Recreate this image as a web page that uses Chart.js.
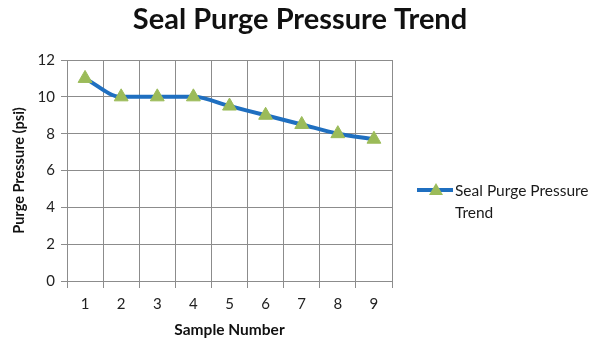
<!DOCTYPE html>
<html>
<head>
<meta charset="utf-8">
<script src="https://cdn.jsdelivr.net/npm/chart.js@4/dist/chart.umd.min.js"></script>
<style>
  html, body { margin: 0; padding: 0; background: #fff; }
  #wrap { position: relative; width: 600px; height: 347px; }
  #legend { position: absolute; left: 417px; top: 179px; width: 183px;
            font-family: Lato, sans-serif; font-size: 15.5px; color: #1a1a1a; line-height: 22px; }
  #legend .item { display: flex; align-items: flex-start; }
  #legend .swatch { position: relative; width: 36px; height: 22px; flex: none; margin-right: 2px; }
  #legend .swatch .ln { position: absolute; left: 0; right: 0; top: 9px; height: 4px; }
  #legend .swatch .tri { position: absolute; left: 12px; top: 4px; width: 0; height: 0;
            border-left: 7px solid transparent; border-right: 7px solid transparent; border-bottom: 12px solid; }
</style>
</head>
<body>
<div id="wrap">
  <canvas id="trendChart" width="600" height="347"></canvas>
  <div id="legend"></div>
</div>
<script>
const chartTitle = 'Seal Purge Pressure Trend';
const samples = ['1', '2', '3', '4', '5', '6', '7', '8', '9'];
const pressure = [11, 10, 10, 10, 9.5, 9, 8.5, 8, 7.7];
const yTicks = [0, 2, 4, 6, 8, 10, 12];

const lineColor = '#1f6fc0';
const markerColor = '#9bbb59';
const gridColor = '#8c8c8c';
const font = 'Lato, sans-serif';

// title centred on the whole canvas, not just the plot
const pageTitle = {
    id: 'pageTitle',
    afterDraw(chart) {
        const ctx = chart.ctx;
        ctx.save();
        ctx.font = 'bold 29px ' + font;
        ctx.fillStyle = '#111';
        ctx.textAlign = 'center';
        ctx.textBaseline = 'middle';
        ctx.fillText(chartTitle, chart.width / 2, 20);
        ctx.restore();
    }
};

const chart = new Chart(document.getElementById('trendChart'), {
    type: 'line',
    data: {
        labels: samples,
        datasets: [{
            label: 'Seal Purge Pressure Trend',
            data: pressure,
            borderColor: lineColor,
            borderWidth: 4,
            cubicInterpolationMode: 'monotone',
            pointStyle: 'triangle',
            pointRadius: 8,
            pointBackgroundColor: markerColor,
            pointBorderColor: markerColor,
            pointBorderWidth: 1
        }]
    },
    options: {
        responsive: false,
        animation: false,
        layout: { padding: { left: 0, right: 208, top: 60, bottom: 0 } },
        plugins: {
            legend: { display: false },
            tooltip: { enabled: false }
        },
        scales: {
            x: {
                offset: true,
                grid: { offset: true, color: gridColor, tickLength: 7 },
                border: { color: gridColor },
                ticks: { color: '#222', font: { family: font, size: 15 }, padding: 7 },
                title: {
                    display: true, text: 'Sample Number', color: '#111',
                    font: { family: font, size: 15.5, weight: 'bold' }, padding: { top: 4, bottom: 8 }
                },
                afterFit(scale) { scale.height = 66; }
            },
            y: {
                min: 0,
                max: 12,
                afterBuildTicks(scale) { scale.ticks = yTicks.map(v => ({ value: v })); },
                grid: { color: gridColor, tickLength: 6 },
                border: { color: gridColor },
                ticks: { color: '#222', font: { family: font, size: 15 }, padding: 6 },
                title: {
                    display: true, text: 'Purge Pressure (psi)', color: '#111',
                    font: { family: font, size: 14.5, weight: 'bold' }, padding: { top: 11, bottom: 12 }
                },
                afterFit(scale) { scale.width = 67; }
            }
        }
    },
    plugins: [pageTitle]
});

// legend as html, built from the dataset
const legend = document.getElementById('legend');
chart.data.datasets.forEach(ds => {
    const item = document.createElement('div');
    item.className = 'item';
    item.innerHTML = '<span class="swatch"><span class="ln"></span><span class="tri"></span></span><span class="txt"></span>';
    item.querySelector('.ln').style.background = ds.borderColor;
    item.querySelector('.tri').style.borderBottomColor = ds.pointBackgroundColor;
    item.querySelector('.txt').textContent = ds.label;
    legend.appendChild(item);
});
</script>
</body>
</html>
